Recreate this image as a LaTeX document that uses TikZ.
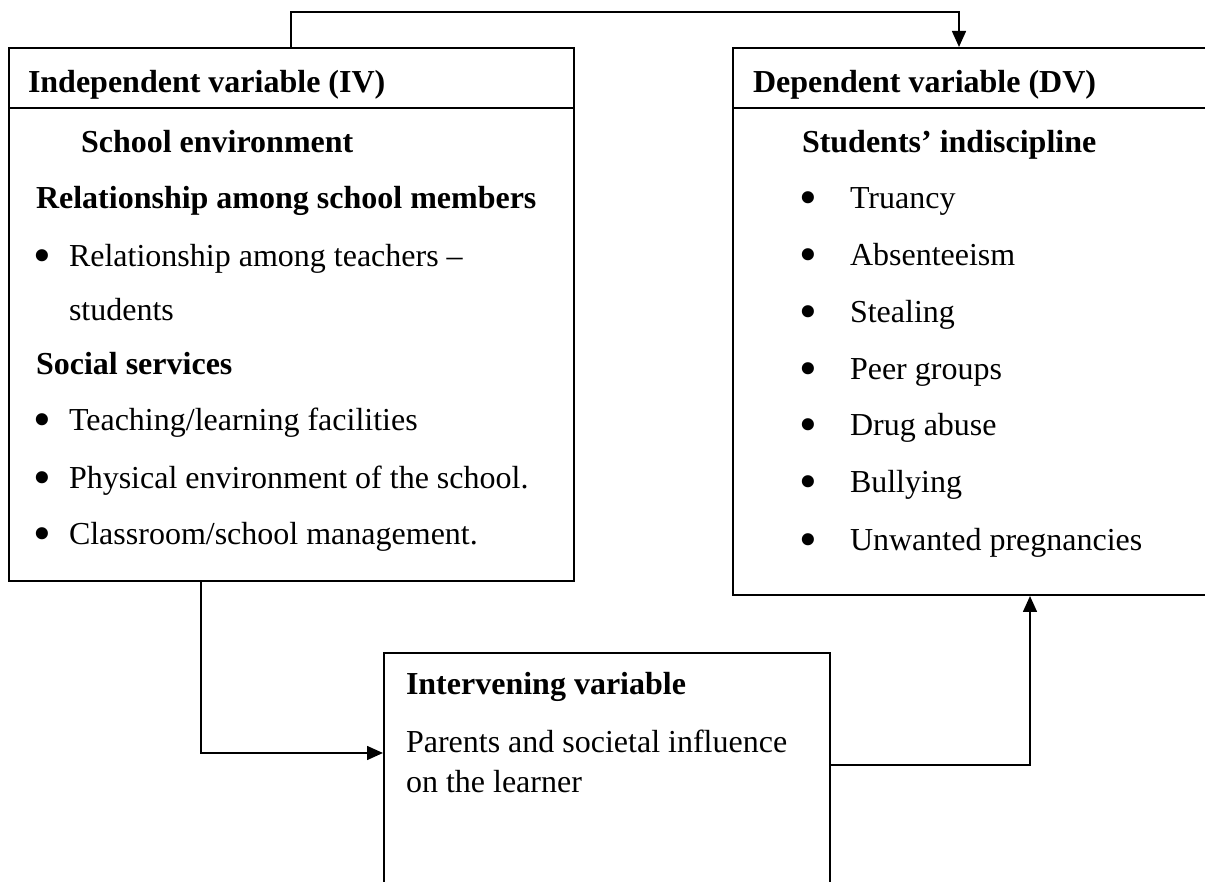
\documentclass[tikz,border=0pt]{standalone}
\usepackage{fontspec}
\setmainfont{Liberation Serif}
\usetikzlibrary{arrows.meta,fit}

\begin{document}
\begin{tikzpicture}[x=0.375pt, y=-0.375pt, line width=0.75pt,
	varbox/.style={draw=black, inner sep=0pt, fit={#1}},
	txt/.style={anchor=base west, inner sep=0pt, font=\fontsize{12}{14}\selectfont},
	btxt/.style={txt, font=\fontsize{12}{14}\selectfont\bfseries},
	dot/.style={txt, font=\fontsize{19}{14}\selectfont, yshift=-2.2pt},
	link/.style={-{Triangle[length=6pt, width=5.2pt]}}]
	\clip (0,0) rectangle (1205,882);
	% boxes
	\node[varbox={(9,48) (574,108)}] (IVhead) {};
	\node[varbox={(9,108) (574,581)}] (IVbody) {};
	\node[varbox={(733,48) (1220,108)}] (DVhead) {};
	\node[varbox={(733,108) (1220,595)}] (DVbody) {};
	\node[varbox={(384,653) (830,900)}] (Inter) {};
	% independent variable
	\node[btxt] at (27,93) (IVtitle) {Independent variable (IV)};
	\node[btxt] at (80,153) (IVenv) {School environment};
	\node[btxt] at (35,209) (IVrel) {Relationship among school members};
	\node[dot] at (32,267) (IVb1) {•};
	\node[txt] at (68,267) (IVi1) {Relationship among teachers --};
	\node[txt] at (68,321) (IVi1b) {students};
	\node[btxt] at (35,375) (IVsoc) {Social services};
	\node[dot] at (32,431) (IVb2) {•};
	\node[txt] at (68,431) (IVi2) {Teaching/learning facilities};
	\node[dot] at (32,489) (IVb3) {•};
	\node[txt] at (68,489) (IVi3) {Physical environment of the school.};
	\node[dot] at (32,545) (IVb4) {•};
	\node[txt] at (68,545) (IVi4) {Classroom/school management.};
	% dependent variable
	\node[btxt] at (752,93) (DVtitle) {Dependent variable (DV)};
	\node[btxt] at (801,153) (DVsub) {Students’ indiscipline};
	\node[dot] at (798,209) (DVb1) {•};
	\node[txt] at (849,209) (DVi1) {Truancy};
	\node[dot] at (798,266) (DVb2) {•};
	\node[txt] at (849,266) (DVi2) {Absenteeism};
	\node[dot] at (798,323) (DVb3) {•};
	\node[txt] at (849,323) (DVi3) {Stealing};
	\node[dot] at (798,380) (DVb4) {•};
	\node[txt] at (849,380) (DVi4) {Peer groups};
	\node[dot] at (798,436) (DVb5) {•};
	\node[txt] at (849,436) (DVi5) {Drug abuse};
	\node[dot] at (798,493) (DVb6) {•};
	\node[txt] at (849,493) (DVi6) {Bullying};
	\node[dot] at (798,551) (DVb7) {•};
	\node[txt] at (849,551) (DVi7) {Unwanted pregnancies};
	% intervening variable
	\node[btxt] at (405,695) (INtitle) {Intervening variable};
	\node[txt] at (405,753) (INi1) {Parents and societal influence};
	\node[txt] at (405,793) (INi2) {on the learner};
	% connectors
	\node[shape=coordinate] at (291,12) (T1) {};
	\node[shape=coordinate] at (959,12) (T2) {};
	\node[shape=coordinate] at (201,753) (L1) {};
	\node[shape=coordinate] at (1030,765) (R1) {};
	\draw[link] (IVhead.north -| T1) -- (T1) -- (T2) -- (T2 |- DVhead.north);
	\draw[link] (IVbody.south -| L1) -- (L1) -- (Inter.west |- L1);
	\draw[link] (Inter.east |- R1) -- (R1) -- (R1 |- DVbody.south);
\end{tikzpicture}
\end{document}
